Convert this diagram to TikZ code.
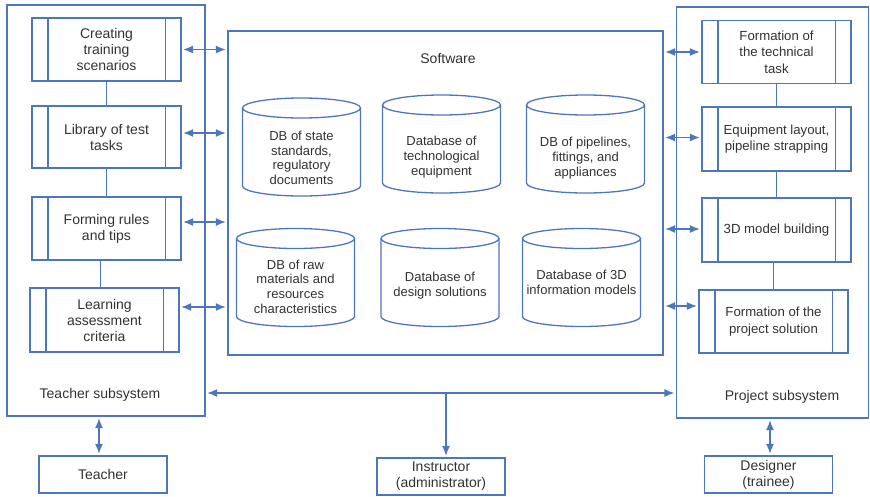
\documentclass[tikz,border=0pt]{standalone}
\usepackage{fontspec}
\setmainfont{Liberation Sans}
\usetikzlibrary{arrows.meta}
\definecolor{lineblue}{RGB}{78,118,190}
\definecolor{txtgray}{RGB}{50,50,50}

\begin{document}
\begin{tikzpicture}[x=1pt, y=-1pt, >={Latex[length=10pt,width=8pt]},
    every node/.style={text=txtgray, font=\fontsize{14}{16}\selectfont},
    line/.style={draw=lineblue, line width=1.3pt},
    conn/.style={line, <->, shorten <=1.5pt, shorten >=1.5pt},
    frame/.style={line, rectangle, inner sep=0pt},
    proc/.style={line, rectangle, minimum width=149pt, minimum height=63pt, inner sep=0pt, align=center},
    pproc/.style={proc, font=\fontsize{13.2}{16.5}\selectfont},
    actor/.style={line, rectangle, minimum width=128pt, minimum height=37pt, inner sep=0pt, align=center},
    dbbody/.style={rectangle, minimum width=118pt, minimum height=98pt, inner sep=0pt, outer sep=0pt},
    dbtext/.style={align=center, font=\fontsize{13}{14.7}\selectfont}]
    \def\strip{16.5pt}
    \def\ry{10pt}
    \useasboundingbox (0,0) rectangle (870,496);
    % Subsystem frames and software block
    \node[frame, minimum width=198pt, minimum height=411pt] (tsub) at (106,210.5) {};
    \node[frame, minimum width=192pt, minimum height=411pt] (psub) at (772.5,212.5) {};
    \node[frame, minimum width=435pt, minimum height=324pt] (sw) at (445.5,193) {};
    \node (tlab) at (100,395) {Teacher subsystem};
    \node (plab) at (782,397) {Project subsystem};
    \node (swlab) at (448,58) {Software};
    % Teacher subsystem processes
    \node[proc] (t1) at (106.5,49.5) {Creating\\training\\scenarios};
    \node[proc, minimum height=62pt] (t2) at (106.5,137) {Library of test\\tasks};
    \node[proc] (t3) at (106.5,228.5) {Forming rules\\and tips};
    \node[proc, minimum height=64pt] (t4) at (104.5,320) {Learning\\assessment\\criteria};
    % Project subsystem processes
    \node[pproc] (p1) at (776.5,52) {Formation of\\the technical\\task};
    \node[pproc, minimum height=64pt] (p2) at (776.5,139) {Equipment layout,\\pipeline strapping};
    \node[pproc, minimum height=64pt] (p3) at (776.5,230) {3D model building};
    \node[pproc] (p4) at (773.5,321.5) {Formation of the\\project solution};
    % Side strips of the process boxes
    \foreach \n in {t1,t2,t3,t4,p1,p2,p3,p4} {
        \draw[line] ([xshift=\strip]\n.north west) -- ([xshift=\strip]\n.south west);
        \draw[line] ([xshift=-\strip]\n.north east) -- ([xshift=-\strip]\n.south east);
    }
    % Links inside the subsystems
    \draw[line] (t1.south) -- (t1.south |- t2.north);
    \draw[line] (t2.south) -- (t2.south |- t3.north);
    \draw[line] ([xshift=-6pt]t3.south) -- ([xshift=-6pt]t3.south |- t4.north);
    \draw[line] (p1.south) -- (p1.south |- p2.north);
    \draw[line] (p2.south) -- (p2.south |- p3.north);
    \draw[line] ([xshift=-3pt]p3.south) -- ([xshift=-3pt]p3.south |- p4.north);
    % Databases
    \foreach \n/\cx/\cy/\dy/\txt in {
        db1/301.5/147/11/{DB of state\\standards,\\regulatory\\documents},
        db2/441.5/144/13/{Database of\\technological\\equipment},
        db3/585.5/144/14/{DB of pipelines,\\fittings, and\\appliances},
        db4/295.5/277.5/9/{DB of raw\\materials and\\resources\\characteristics},
        db5/440/277.5/8/{Database of\\design solutions},
        db6/581.5/277.5/5/{Database of 3D\\information models}} {
        \node[dbbody] (\n) at (\cx,\cy) {};
        \draw[line] ([yshift=-\ry]\n.north) ellipse [x radius=59pt, y radius=\ry];
        \draw[line] ([yshift=-\ry]\n.north west) -- ([yshift=\ry]\n.south west)
            arc[start angle=180, end angle=360, x radius=59pt, y radius=\ry]
            -- ([yshift=-\ry]\n.north east);
        \node[dbtext] (\n txt) at ([yshift=-\dy pt]\n.center) {\txt};
    }
    % Teacher subsystem <-> software
    \draw[conn] (t1.east) -- (t1.east -| sw.west);
    \draw[conn] ([yshift=4pt]t2.east) -- ([yshift=4pt]t2.east -| sw.west);
    \draw[conn] ([yshift=6.5pt]t3.east) -- ([yshift=6.5pt]t3.east -| sw.west);
    \draw[conn] ([yshift=13pt]t4.east) -- ([yshift=13pt]t4.east -| sw.west);
    % Software <-> project subsystem
    \draw[conn] (sw.east |- p1.west) -- (p1.west);
    \draw[conn] ([yshift=1.5pt]sw.east |- p2.west) -- ([yshift=1.5pt]p2.west);
    \draw[conn] ([yshift=1pt]sw.east |- p3.west) -- ([yshift=1pt]p3.west);
    \draw[conn] ([yshift=15.5pt]sw.east |- p4.west) -- ([yshift=15.5pt]p4.west);
    % Users
    \node[actor] (teacher) at (103,474.5) {Teacher};
    \node[actor] (instr) at (441,476.5) {Instructor\\(administrator)};
    \node[actor] (designer) at (768.5,474.5) {Designer\\(trainee)};
    \draw[conn] ([xshift=-4pt]teacher.north |- tsub.south) -- ([xshift=-4pt]teacher.north);
    \draw[conn] ([xshift=1.5pt]designer.north |- psub.south) -- ([xshift=1.5pt]designer.north);
    % Bus between the subsystems and the instructor
    \coordinate (bus) at (446,393);
    \draw[conn] (bus -| tsub.east) -- (bus -| psub.west);
    \draw[line, ->, shorten >=1.5pt] (bus) -- (bus |- instr.north);
\end{tikzpicture}
\end{document}
